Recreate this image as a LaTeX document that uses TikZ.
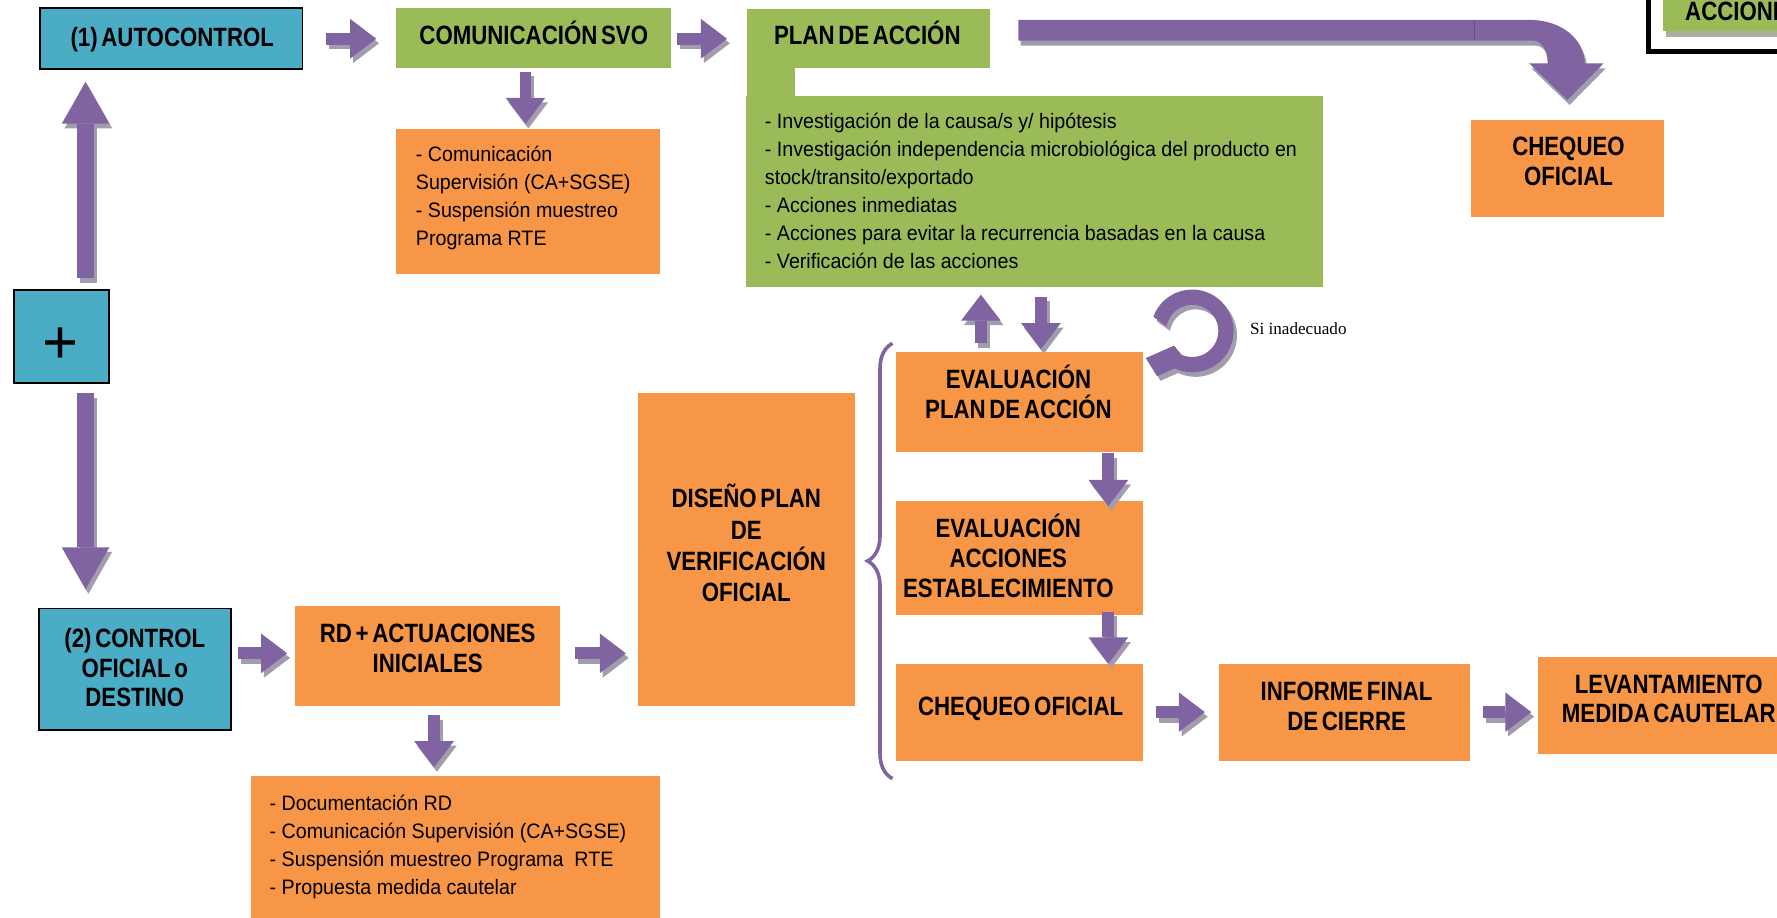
\documentclass[tikz,border=0pt]{standalone}
\usepackage{fontspec}
\setmainfont{Liberation Sans}[FakeStretch=0.94]
\newfontfamily\titlefam{Liberation Sans}[FakeStretch=0.84,WordSpace=0.6]
\newfontfamily\plusfam{Liberation Sans}
\newfontfamily\serf{Liberation Serif}
\usetikzlibrary{arrows.meta,decorations.pathreplacing,calc}
\definecolor{cblue}{HTML}{4BACC6}
\definecolor{cgreen}{HTML}{9BBB59}
\definecolor{corange}{HTML}{F79646}
\definecolor{cpurple}{HTML}{8064A2}
\definecolor{cshadow}{RGB}{162,157,172}
\definecolor{cgshadow}{RGB}{170,176,158}
\newcommand\titlef{\titlefam\bfseries\fontsize{13.3}{14.9}\selectfont}
\newcommand\disf{\titlefam\bfseries\fontsize{13.3}{15.6}\selectfont}
\newcommand\bodyf{\fontsize{10.5}{14}\selectfont}
\newcommand\tl[1]{\smash{#1}\rule[-2pt]{0pt}{13.2pt}}
\newcommand\bl[1]{\smash{#1}\rule[-2pt]{0pt}{11.5pt}}
\newcommand\bx[6]{\node[#2, minimum width={(#5-#3)*0.02cm}, minimum height={(#6-#4)*0.02cm}] (#1) at ({(#3+#5)/2},{(#4+#6)/2}) {};}
\newcommand\farrow[2]{%
  \begin{scope}[transform canvas={shift={(2.5,4)}}]\draw[#1,draw=cshadow] #2;\end{scope}
  \draw[#1] #2;}
\newcommand\shfill[2][(2.5,4)]{%
  \begin{scope}[transform canvas={shift={#1}}]\fill[cshadow] #2;\end{scope}
  \fill[cpurple] #2;}
\tikzset{
  every node/.style={inner sep=0pt, outer sep=0pt},
  boxo/.style={fill=corange},
  boxg/.style={fill=cgreen},
  boxb/.style={fill=cblue, draw=black, line width=0.9pt},
  ttl/.style={font=\titlef, align=center, text=black},
  bdy/.style={font=\bodyf, align=left, anchor=west, text=black},
  fat/.style={draw=cpurple, line width=0.21cm, -{Triangle[length=0.46cm,width=0.70cm,line width=0pt]}},
  fatlong/.style={draw=cpurple, line width=0.29cm, -{Triangle[length=0.74cm,width=0.84cm,line width=0pt]}},
}
\begin{document}
\begin{tikzpicture}[x=0.02cm, y=-0.02cm]
\useasboundingbox (0,0) rectangle (1568,810);
\begin{scope}
\clip (0,0) rectangle (1568,810);

% top-right partial frame
\draw[black, line width=2.3pt] (1454.6,-40) rectangle (1640,45.3);
\fill[cgshadow] (1470,-20) rectangle (1640,32.4);
\bx{acc}{boxg}{1467.6}{-20}{1640}{27.1}
\node[font=\titlef, anchor=base west] (acc-t) at (1487,17.8) {ACCIONE};

% boxes
\bx{auto}{boxb}{35}{7.4}{267}{61.2}
\bx{com}{boxg}{349}{7.4}{592}{59.7}
\bx{plan}{boxg}{659}{8}{873.6}{60.3}
\fill[cgreen] (659,59) rectangle (701.5,86);
\bx{plandet}{boxg}{658.5}{84.7}{1167.4}{253}
\bx{box1}{boxo}{349}{113.8}{582.5}{241.8}
\bx{chqtop}{boxo}{1297.8}{105.9}{1468.3}{191.2}
\bx{plus}{boxb}{12.7}{256}{96.3}{338}
\bx{ctrl}{boxb}{34.4}{537}{203.7}{643.8}
\bx{rd}{boxo}{260.4}{534.6}{493.9}{622.6}
\bx{dis}{boxo}{563.3}{346.9}{754.7}{622.6}
\bx{box2}{boxo}{221.4}{685}{582.5}{815}
\bx{evalp}{boxo}{790.7}{310.6}{1008.7}{398.5}
\bx{evala}{boxo}{790.7}{442}{1008.7}{542.6}
\bx{chq}{boxo}{790.7}{586}{1008.7}{671.3}
\bx{inf}{boxo}{1075.6}{586}{1297.3}{671.3}
\bx{lev}{boxo}{1356.7}{579.5}{1588}{665.3}

% texts
\node[ttl] (auto-t) at (152,33) {\tl{(1) AUTOCONTROL}};
\node[ttl] (com-t) at (471,31.6) {\tl{COMUNICACIÓN SVO}};
\node[ttl] (plan-t) at (765.3,31.6) {\tl{PLAN DE ACCIÓN}};
\node[bdy] (box1-t) at (367,173) {\bl{- Comunicación}\\\bl{Supervisión (CA+SGSE)}\\\bl{- Suspensión muestreo}\\\bl{Programa RTE}};
\node[bdy] (plandet-t) at (675,168.5) {\bl{- Investigación de la causa/s y/ hipótesis}\\\bl{- Investigación independencia microbiológica del producto en}\\\bl{stock/transito/exportado}\\\bl{- Acciones inmediatas}\\\bl{- Acciones para evitar la recurrencia basadas en la causa}\\\bl{- Verificación de las acciones}};
\node[ttl] (chqtop-t) at (1384,142.2) {\tl{CHEQUEO}\\\tl{OFICIAL}};
\node[font=\plusfam\fontsize{31}{31}\selectfont, anchor=base] (plus-t) at (53.5,320.5) {+};
\node[ttl] (ctrl-t) at (119,589.5) {\tl{(2) CONTROL}\\\tl{OFICIAL o}\\\tl{DESTINO}};
\node[ttl] (rd-t) at (377.4,572.1) {\tl{RD + ACTUACIONES}\\\tl{INICIALES}};
\node[ttl, font=\disf] (dis-t) at (658.5,481.25) {\tl{DISEÑO PLAN}\\\tl{DE}\\\tl{VERIFICACIÓN}\\\tl{OFICIAL}};
\node[ttl] (evalp-t) at (898.7,348.1) {\tl{EVALUACIÓN}\\\tl{PLAN DE ACCIÓN}};
\node[ttl] (evala-t) at (889.7,492.6) {\tl{EVALUACIÓN}\\\tl{ACCIONES}\\\tl{ESTABLECIMIENTO}};
\node[ttl] (chq-t) at (900.6,623) {\tl{CHEQUEO OFICIAL}};
\node[ttl] (inf-t) at (1188.2,623.3) {\tl{INFORME FINAL}\\\tl{DE CIERRE}};
\node[ttl] (lev-t) at (1472.5,616.75) {\tl{LEVANTAMIENTO}\\\tl{MEDIDA CAUTELAR}};
\node[bdy] (box2-t) at (238,745.9) {\bl{- Documentación RD}\\\bl{- Comunicación Supervisión (CA+SGSE)}\\\bl{- Suspensión muestreo Programa \ RTE}\\\bl{- Propuesta medida cautelar}};
\node[font=\serf\fontsize{8.6}{10}\selectfont, anchor=base west] (si) at (1103,295.6) {Si inadecuado};

% helper rows / columns
\coordinate (r1) at (0,34.2);
\coordinate (r3) at (0,576.5);
\coordinate (r4) at (0,628.4);
\coordinate (c0) at (75.5,0);
\coordinate (c1) at (463.7,0);
\coordinate (c2) at (383,0);
\coordinate (c3) at (865.5,0);
\coordinate (c4) at (918.5,0);
\coordinate (c5) at (978,0);

% block arrows
\farrow{fat,shorten <=0.42cm,shorten >=0.34cm}{(auto.east |- r1) -- (com.west |- r1)}
\farrow{fat,shorten <=0.11cm,shorten >=0.35cm}{(com.east |- r1) -- (plan.west |- r1)}
\farrow{fat,shorten <=0.07cm,shorten >=0.09cm}{(com.south -| c1) -- (box1.north -| c1)}
\farrow{fatlong,shorten <=0.21cm,shorten >=0.22cm}{(plus.north -| c0) -- (auto.south -| c0)}
\farrow{fatlong,shorten <=0.18cm,shorten >=0.34cm}{(plus.south -| c0) -- (ctrl.north -| c0)}
\farrow{fat,shorten <=0.13cm,shorten >=0.14cm}{(ctrl.east |- r3) -- (rd.west |- r3)}
\farrow{fat,shorten <=0.27cm,shorten >=0.22cm}{(rd.east |- r3) -- (dis.west |- r3)}
\farrow{fat,shorten <=0.17cm,shorten >=0.16cm}{(rd.south -| c2) -- (box2.north -| c2)}
\farrow{fat,shorten <=0.15cm,shorten >=0.14cm}{(evalp.north -| c3) -- (plandet.south -| c3)}
\farrow{fat,shorten <=0.18cm,shorten >=0.05cm}{(plandet.south -| c4) -- (evalp.north -| c4)}
\farrow{fat,shorten <=0.03cm,shorten >=-0.09cm}{(evalp.south -| c5) -- (evala.north -| c5)}
\farrow{fat,shorten <=-0.06cm,shorten >=0.01cm}{(evala.south -| c5) -- (chq.north -| c5)}
\farrow{fat,shorten <=0.23cm,shorten >=0.25cm}{(chq.east |- r4) -- (inf.west |- r4)}
\farrow{fat,shorten <=0.22cm,shorten >=0.11cm}{(inf.east |- r4) -- (lev.west |- r4)}

% big bent arrow from plan de accion to chequeo oficial
\shfill[(2,4.4)]{(898.5,17.6) -- (1350,17.6) .. controls (1378,17.6) and (1398.3,35) .. (1398.3,55.9) -- (1415,55.9) -- (1383,88.2) -- (1349.3,55.9) -- (1365.6,55.9) .. controls (1365.6,44) and (1360,35.9) .. (1353,35.9) -- (898.5,35.9) -- cycle}
\draw[cpurple!80!black, line width=0.4pt] (1301,18.5) -- (1301,35.5);

% loop arrow
\shfill[(3,4)]{plot[domain=-160:115,samples=60] ({1052+36.5*cos(\x)},{292+36.5*sin(\x)}) -- (1021,332) -- (1011,316) -- (1036,305) -- plot[domain=115:-170,samples=60] ({1052+23*cos(\x)},{292+23*sin(\x)}) -- cycle}

% brace
\draw[cpurple, line width=1.8pt, decorate, decoration={brace, amplitude=0.44cm, aspect=0.5}] (787.5,687) -- (787.5,303);
\end{scope}
\end{tikzpicture}
\end{document}
